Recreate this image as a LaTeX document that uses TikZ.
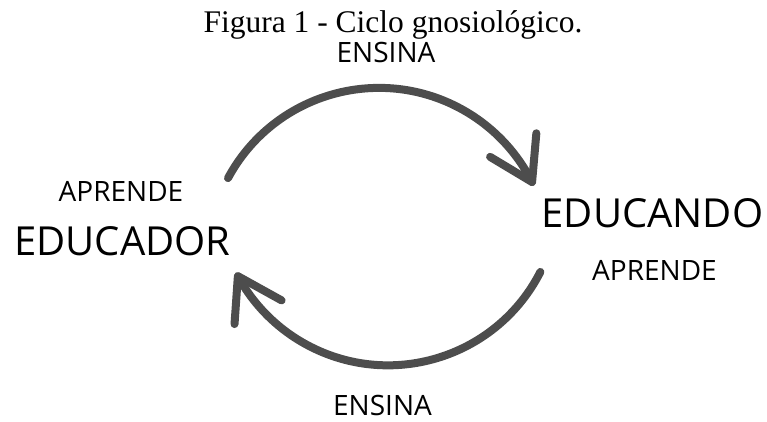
\documentclass[tikz,border=0pt]{standalone}
\usepackage{fontspec}
\setmainfont{Liberation Serif}
\newfontfamily\osans{Open Sans}
\usetikzlibrary{calc}
\definecolor{arcgray}{RGB}{77,77,77}
\begin{document}
\begin{tikzpicture}[x=1pt,y=1pt,
  lbl/.style={inner sep=0pt,anchor=base,text=black},
  small/.style={lbl,font=\osans\fontsize{28}{32}\selectfont},
  big/.style={lbl,font=\osans\fontsize{40}{46}\selectfont},
  cyc/.style={draw=arcgray,line width=8pt,line cap=round,line join=round}]
\useasboundingbox (0,0) rectangle (767,421);
% title
\node[lbl,font=\fontsize{31.5}{36}\selectfont] (title) at (393,388.5) {Figura 1 - Ciclo gnosiológico.};
% labels
\node[small] (ensTop) at (386,358) {ENSINA};
\node[small] (ensBot) at (382.5,6) {ENSINA};
\node[small] (aprL) at (121,220) {APRENDE};
\node[big] (educador) at (122.5,166) {EDUCADOR};
\node[big] (educando) at (652.5,194) {EDUCANDO};
\node[small] (aprR) at (654.5,141) {APRENDE};
% top arc
\coordinate (cTop) at (379,161.6);
\coordinate (topStart) at ($(cTop)+(151.7:171.5)$);
\coordinate (topTip) at ($(cTop)+(26.8:171.5)$);
\draw[cyc] (topStart) arc[start angle=151.7,end angle=26.8,radius=171.5];
\draw[cyc] ($(topTip)+(85:49)$) -- (topTip) -- ($(topTip)+(149:49)$);
% bottom arc
\coordinate (cBot) at (388,226.7);
\coordinate (botStart) at ($(cBot)+(-27:171)$);
\coordinate (botTip) at ($(cBot)+(-151.4:171)$);
\draw[cyc] (botStart) arc[start angle=-27,end angle=-151.4,radius=171];
\draw[cyc] ($(botTip)+(266:48)$) -- (botTip) -- ($(botTip)+(331:50)$);
\end{tikzpicture}
\end{document}
